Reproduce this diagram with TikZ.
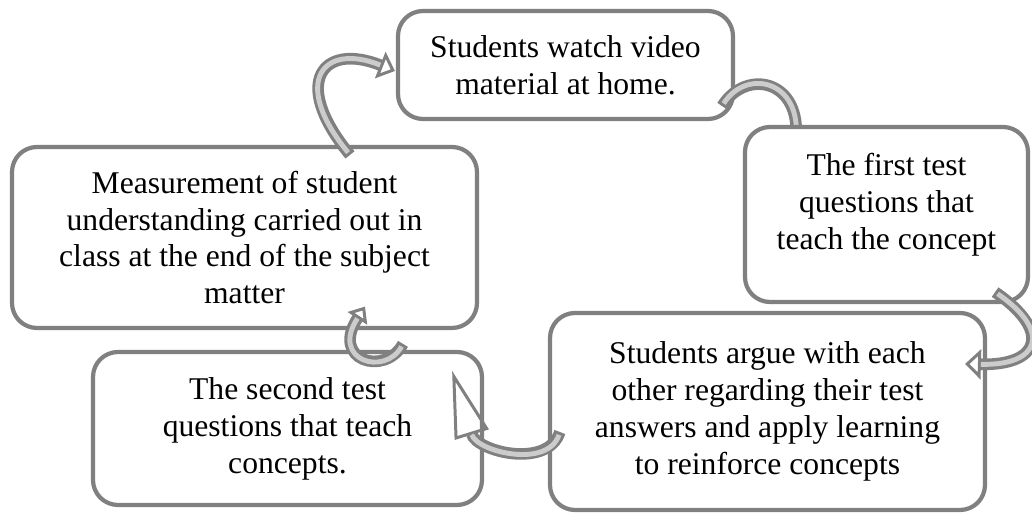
\documentclass[tikz,border=0pt]{standalone}
\usepackage{fontspec}
\setmainfont{Liberation Serif}
\usetikzlibrary{arrows.meta}

\begin{document}
\begin{tikzpicture}[
		stage/.style={draw=gray, line width=1.2pt, rounded corners=0.25cm, fill=white, align=center, inner sep=0pt, font=\fontsize{9}{10.5}\selectfont},
		cyclearrow/.style n args={2}{draw=gray, line width=3.3pt, -{Triangle[open, length=#1, width=#2, line width=0.85pt]}, postaction={draw=gray!40, line width=1.4pt, arrows=-, shorten <=0.85pt, shorten >=#1}}
	]
		\useasboundingbox (0,0) rectangle (10.32,5.14);
		\node[stage, minimum width=4.65cm, minimum height=1.81cm] (measure) at (2.445,2.765) {Measurement of student\\understanding carried out in\\class at the end of the subject\\matter};
		\node[stage, minimum width=3.35cm, minimum height=1.08cm] (watch) at (5.655,4.49) {Students watch video\\material at home.};
		\draw[cyclearrow={4pt}{7pt}] ([shift={(-0.13,0.15)}]watch.south east) .. controls +(0.25,0.4) and +(0.15,0.8) .. ([shift={(0.57,-0.4)}]watch.south east);
		\node[stage, minimum width=2.83cm, minimum height=1.75cm, text depth=0.27cm] (first) at (8.865,2.995) {The first test\\questions that\\teach the concept};
		\node[stage, minimum width=4.35cm, minimum height=1.97cm] (argue) at (7.675,1.025) {Students argue with each\\other regarding their test\\answers and apply learning\\to reinforce concepts};
		\node[stage, minimum width=3.89cm, minimum height=1.53cm] (second) at (2.875,0.855) {The second test\\questions that teach\\concepts.};
		\draw[cyclearrow={4.5pt}{8pt}] ([shift={(1.055,-0.1)}]measure.north) .. controls +(-0.6,0.73) and +(-0.72,0.29) .. ([shift={(-0.01,-0.06)}]watch.west);
		\draw[cyclearrow={4.5pt}{8.5pt}] ([shift={(-0.35,0.12)}]first.south east) .. controls +(0.57,-0.39) and +(0.75,-0.02) .. ([shift={(-0.22,-0.53)}]argue.north east);
		\draw[cyclearrow={19pt}{10pt}] ([shift={(0.12,-0.205)}]argue.west) .. controls +(-0.12,-0.37) and +(0.25,-0.81) .. ([shift={(-0.32,-0.21)}]second.north east);
		\draw[cyclearrow={4pt}{6.5pt}] ([shift={(1.155,0.06)}]second.north) .. controls +(-0.18,-0.33) and +(-0.35,-0.54) .. ([shift={(1.205,0.235)}]measure.south);
\end{tikzpicture}
\end{document}
